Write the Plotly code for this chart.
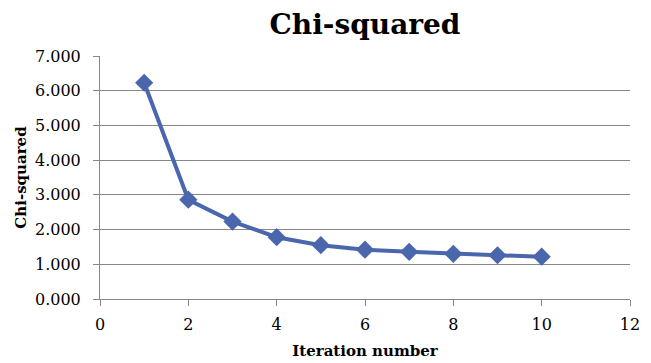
import plotly.graph_objects as go

iterations = [1, 2, 3, 4, 5, 6, 7, 8, 9, 10]
chi_squared = [6.23, 2.86, 2.23, 1.78, 1.55, 1.42, 1.36, 1.30, 1.26, 1.22]

x_ticks = [0, 2, 4, 6, 8, 10, 12]
y_ticks = [0, 1, 2, 3, 4, 5, 6, 7]

color = "#4A66AC"
serif = "DejaVu Serif"

fig = go.Figure(go.Scatter(
    x=iterations, y=chi_squared, mode="lines+markers",
    line=dict(color=color, width=4),
    marker=dict(symbol="diamond", size=14, color=color),
))

fig.update_layout(
    width=651, height=363,
    margin=dict(l=100, r=21, t=56, b=64),
    paper_bgcolor="white", plot_bgcolor="white",
    showlegend=False,
    title=dict(text="<b>Chi-squared</b>", x=365/651, xanchor="center",
               y=1-24/363, yanchor="middle",
               font=dict(family=serif, size=28, color="black")),
    font=dict(family=serif, color="black"),
)
fig.update_xaxes(
    range=[0, 12], tickvals=x_ticks, ticktext=[str(v) for v in x_ticks],
    showgrid=False, showline=True, linecolor="#878787", linewidth=1,
    ticks="outside", ticklen=6, tickcolor="#878787",
    tickfont=dict(family=serif, size=16), ticklabelstandoff=5,
    title=dict(text="<b>Iteration number</b>", font=dict(family=serif, size=15), standoff=12),
    zeroline=False, automargin=False,
)
fig.update_yaxes(
    range=[0, 7], tickvals=y_ticks, ticktext=[f"{v:.3f}" for v in y_ticks],
    showgrid=True, gridcolor="#878787", gridwidth=1,
    showline=True, linecolor="#878787", linewidth=1,
    ticks="outside", ticklen=6, tickcolor="#878787",
    tickfont=dict(family=serif, size=16), ticklabelstandoff=9,
    title=dict(text="<b>Chi-squared</b>", font=dict(family=serif, size=15), standoff=4),
    zeroline=False, automargin=False,
)

fig.write_html("out.html")
